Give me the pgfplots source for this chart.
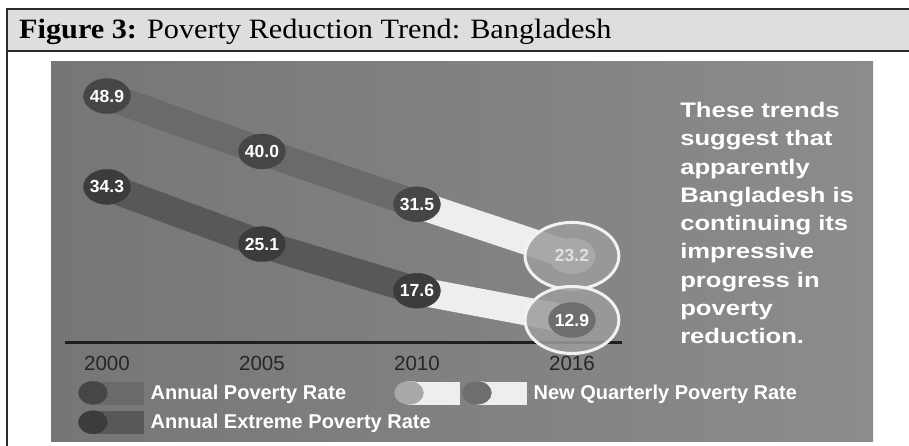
\documentclass[border=0pt]{standalone}
\usepackage{pgfplots}
\pgfplotsset{compat=1.18}
\usepackage{fontspec}
\setmainfont{Liberation Serif}
\newfontfamily\arial{Liberation Sans}

\definecolor{panelL}{HTML}{767676}
\definecolor{panelR}{HTML}{8C8C8C}
\definecolor{titlebg}{HTML}{DEDEDE}
\definecolor{frame}{HTML}{2A2A2A}
\definecolor{annBand}{HTML}{6A6A6A}
\definecolor{annCirc}{HTML}{464646}
\definecolor{extBand}{HTML}{585858}
\definecolor{extCirc}{HTML}{3C3C3C}
\definecolor{qBand}{HTML}{EEEEEE}
\definecolor{ringFill}{HTML}{9C9C9C}
\definecolor{qCircA}{HTML}{A8A8A8}
\definecolor{qCircB}{HTML}{6E6E6E}

\begin{document}
\begin{tikzpicture}[x=1pt,y=1pt]
\useasboundingbox (0,0) rectangle (909,446);
\fill[white] (0,0) rectangle (909,446);
% title bar
\fill[titlebg] (7,395) rectangle (909,437);
\draw[frame, line width=1.5pt] (909,437) -- (7,437) -- (7,0);
\draw[frame, line width=1.5pt] (7,395) -- (909,395);
\node[anchor=base west, inner sep=0pt, xscale=1.08] at (19,407) {\fontsize{28}{30}\selectfont\textbf{Figure 3:} Poverty Reduction Trend: Bangladesh};
% panel
\shade[left color=panelL, right color=panelR] (51,4) rectangle (873,384);

\begin{axis}[
  at={(65pt,103pt)}, anchor=south west,
  scale only axis, width=557pt, height=263.1pt,
  xmin=-0.271, xmax=3.323, ymin=9.2, ymax=51.5,
  clip=false,
  axis x line*=bottom, axis y line=none,
  x axis line style={line width=3pt, color=black!88},
  xtick={0,1,2,3}, xticklabels={2000,2005,2010,2016},
  major tick length=0pt,
  xticklabel style={anchor=center, yshift=-20pt, font=\arial\fontsize{20.5}{24}\selectfont, text=black!85},
  legend columns=2,
  legend cell align=left,
  legend style={at={(axis cs:-0.187,3.1)}, anchor=north west, draw=none, fill=none, inner sep=0pt,
    text=white, font=\arial\bfseries\fontsize{20}{22}\selectfont, row sep=6pt,
    /tikz/every odd column/.append style={column sep=5pt},
    /tikz/every even column/.append style={column sep=46pt}},
]
\addlegendimage{legend image code/.code={
  \fill[annBand] (14pt,-11pt) rectangle (65pt,11pt);
  \fill[annCirc] (14.5pt,0pt) ellipse [x radius=14.5pt, y radius=11.5pt];}}
\addlegendentry{Annual Poverty Rate}
\addlegendimage{legend image code/.code={
  \fill[qBand] (14pt,-11pt) rectangle (65pt,11pt);
  \fill[qBand] (16.5pt,0pt) ellipse [x radius=14.5pt, y radius=11.5pt];
  \fill[qCircA] (14.5pt,0pt) ellipse [x radius=14.5pt, y radius=11.5pt];
  \fill[qBand] (82pt,-11pt) rectangle (132pt,11pt);
  \fill[qBand] (84.5pt,0pt) ellipse [x radius=14.5pt, y radius=11.5pt];
  \fill[qCircB] (82.5pt,0pt) ellipse [x radius=14.5pt, y radius=11.5pt];}}
\addlegendentry{New Quarterly Poverty Rate}
\addlegendimage{legend image code/.code={
  \fill[extBand] (14pt,-11pt) rectangle (65pt,11pt);
  \fill[extCirc] (14.5pt,0pt) ellipse [x radius=14.5pt, y radius=11.5pt];}}
\addlegendentry{\rlap{Annual Extreme Poverty Rate}}

% bands
\addplot[forget plot, no markers, line width=28pt, color=annBand] coordinates {(0,48.9) (1,40.0) (2,31.5)};
\addplot[forget plot, no markers, line width=28pt, color=extBand] coordinates {(0,34.3) (1,25.1) (2,17.6)};
\addplot[forget plot, no markers, line width=28pt, color=qBand] coordinates {(2,31.5) (3,23.2)};
\addplot[forget plot, no markers, line width=28pt, color=qBand] coordinates {(2,17.6) (3,12.9)};
% rings at 2016
\addplot[forget plot, only marks, mark=*, mark size=33.5pt,
  mark options={xscale=1.4, fill=ringFill, fill opacity=0.85, draw=white!95!black, line width=3pt}]
  coordinates {(3,23.2) (3,12.9)};
% 2016 inner circles
\addplot[forget plot, only marks, mark=*, mark size=17.5pt,
  mark options={xscale=1.34, fill=qCircA, draw=qCircA},
  point meta=explicit symbolic, nodes near coords,
  every node near coord/.append style={anchor=center, text=white!88!black, font=\arial\bfseries\fontsize{17.5}{20}\selectfont}]
  coordinates {(3,23.2)[23.2]};
\addplot[forget plot, only marks, mark=*, mark size=17.5pt,
  mark options={xscale=1.34, fill=qCircB, draw=qCircB},
  point meta=explicit symbolic, nodes near coords,
  every node near coord/.append style={anchor=center, text=white, font=\arial\bfseries\fontsize{17.5}{20}\selectfont}]
  coordinates {(3,12.9)[12.9]};
% annual circles
\addplot[forget plot, only marks, mark=*, mark size=17.5pt,
  mark options={xscale=1.34, fill=annCirc, draw=annCirc},
  point meta=explicit symbolic, nodes near coords,
  every node near coord/.append style={anchor=center, text=white, font=\arial\bfseries\fontsize{17.5}{20}\selectfont}]
  coordinates {(0,48.9)[48.9] (1,40.0)[40.0] (2,31.5)[31.5]};
\addplot[forget plot, only marks, mark=*, mark size=17.5pt,
  mark options={xscale=1.34, fill=extCirc, draw=extCirc},
  point meta=explicit symbolic, nodes near coords,
  every node near coord/.append style={anchor=center, text=white, font=\arial\bfseries\fontsize{17.5}{20}\selectfont}]
  coordinates {(0,34.3)[34.3] (1,25.1)[25.1] (2,17.6)[17.6]};
\end{axis}

\node[anchor=north west, inner sep=0pt, align=left, text=white, xscale=1.22,
  font=\arial\bfseries\fontsize{21}{28.3}\selectfont] at (680,344)
  {These trends\\suggest that\\apparently\\Bangladesh is\\continuing its\\impressive\\progress in\\poverty\\reduction.};
\end{tikzpicture}
\end{document}
